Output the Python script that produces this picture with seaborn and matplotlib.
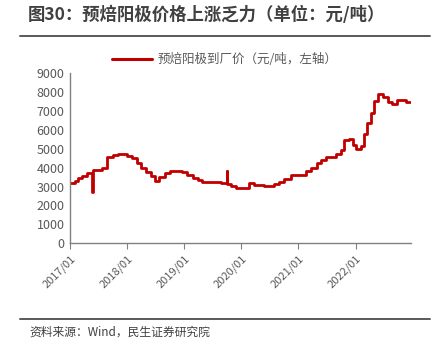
import matplotlib
matplotlib.use("Agg")
import matplotlib.pyplot as plt
from matplotlib.lines import Line2D
import pandas as pd
import seaborn as sns

# Pre-baked anode delivered price (yuan/ton): dates where the quote changes and the new level
change_dates = [
    "2017-01-01", "2017-02-03", "2017-02-20", "2017-03-17", "2017-04-20",
    "2017-05-24", "2017-05-27", "2017-07-24", "2017-08-25", "2017-10-01",
    "2017-11-03", "2018-01-01", "2018-01-31", "2018-03-03", "2018-03-28",
    "2018-05-01", "2018-06-06", "2018-07-01", "2018-07-27", "2018-08-29",
    "2018-10-01", "2018-12-02", "2018-12-21", "2019-01-22", "2019-02-24",
    "2019-03-28", "2019-04-27", "2019-08-26", "2019-10-01", "2019-10-04",
    "2019-10-30", "2019-11-29", "2020-02-21", "2020-03-24", "2020-05-27",
    "2020-07-31", "2020-08-29", "2020-10-01", "2020-11-15", "2021-02-17",
    "2021-03-22", "2021-04-30", "2021-05-26", "2021-06-28", "2021-08-30",
    "2021-10-01", "2021-10-20", "2021-11-21", "2021-12-16", "2022-01-04",
    "2022-02-06", "2022-02-25", "2022-03-15", "2022-04-10", "2022-04-28",
    "2022-05-23", "2022-06-24", "2022-07-27", "2022-08-22", "2022-09-21",
    "2022-11-18", "2022-12-14",
]
prices = [
    3200, 3300, 3450, 3550, 3700,
    2700, 3900, 4000, 4550, 4650,
    4700, 4600, 4500, 4250, 4000,
    3750, 3550, 3300, 3500, 3700,
    3850, 3800, 3750, 3600, 3450,
    3350, 3250, 3200, 3800, 3150,
    3050, 2950, 3200, 3100, 3050,
    3150, 3250, 3400, 3600, 3800,
    4000, 4250, 4400, 4550, 4750,
    4950, 5450, 5500, 5200, 5000,
    5150, 5800, 6350, 6900, 7550,
    7900, 7750, 7500, 7350, 7600,
    7450, 7450,
]
tick_years = ["2017/01", "2018/01", "2019/01", "2020/01", "2021/01", "2022/01"]
series_name = "预焙阳极到厂价（元/吨，左轴）"

df = pd.DataFrame({"date": pd.to_datetime(change_dates), "price": prices})

sns.set_style("white")
plt.rcParams["font.family"] = ["Noto Sans CJK SC", "DejaVu Sans"]

fig = plt.figure(figsize=(4.47, 3.47), dpi=100)
ax = fig.add_axes([0.1566, 0.299, 0.7624, 0.49])

red = "#C00000"
sns.lineplot(data=df, x="date", y="price", ax=ax, color=red, linewidth=2.0,
             drawstyle="steps-post", legend=False)

ax.set_ylim(0, 9000)
ax.set_yticks(range(0, 9001, 1000))
ax.set_xlim(pd.Timestamp("2017-01-01"), pd.Timestamp("2022-12-20"))
ticks = [pd.Timestamp(t.replace("/", "-") + "-01") for t in tick_years]
ax.set_xticks(ticks)
ax.set_xticklabels(tick_years, rotation=45, ha="right", rotation_mode="anchor")
ax.set_xlabel("")
ax.set_ylabel("")

grey = "#808080"
for side in ["top", "right"]:
    ax.spines[side].set_visible(False)
for side in ["left", "bottom"]:
    ax.spines[side].set_color(grey)
    ax.spines[side].set_linewidth(1.0)
ax.tick_params(axis="y", which="major", direction="in", length=3, color=grey,
               labelsize=9, labelcolor="#595959", pad=4)
ax.tick_params(axis="x", which="major", direction="out", length=4, color=grey,
               labelsize=8, labelcolor="#595959", pad=3, bottom=True)

# Legend placed above the plot area
handle = Line2D([], [], color=red, linewidth=2.2)
fig.legend([handle], [series_name], loc="center", bbox_to_anchor=(0.503, 0.828),
           frameon=False, fontsize=9, handlelength=3.2, handletextpad=0.4,
           labelcolor="#595959")

# Title and source with rules
fig.text(0.063, 0.957, "图30：预焙阳极价格上涨乏力（单位：元/吨）", fontsize=12.5,
         fontweight="bold", color="#404040", va="center", ha="left")
fig.add_artist(Line2D([20 / 447, 430 / 447], [1 - 36 / 347, 1 - 36 / 347],
                      color="#595959", linewidth=1.4, transform=fig.transFigure))
fig.add_artist(Line2D([20 / 447, 430 / 447], [1 - 319 / 347, 1 - 319 / 347],
                      color="#595959", linewidth=1.4, transform=fig.transFigure))
fig.text(0.065, 1 - 332 / 347, "资料来源：Wind，民生证券研究院", fontsize=8.5,
         color="#404040", va="center", ha="left")

fig.savefig("out.png", dpi=100)
